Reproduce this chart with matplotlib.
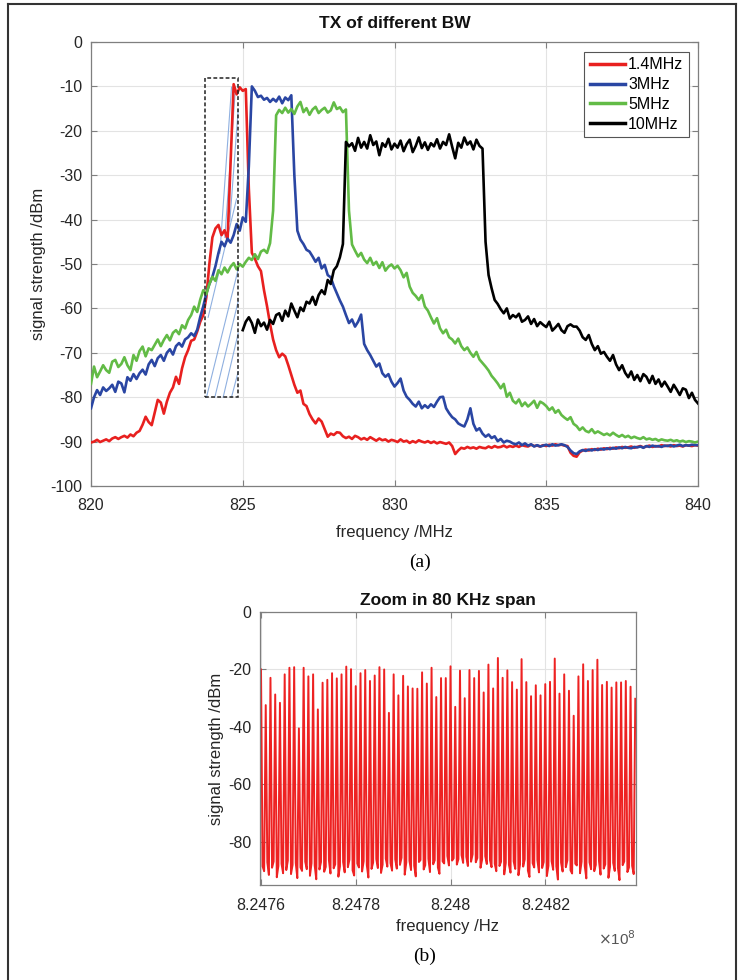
import numpy as np
import matplotlib
matplotlib.use("Agg")
import matplotlib.pyplot as plt
from matplotlib.patches import Rectangle
from matplotlib.lines import Line2D

plt.rcParams['font.family'] = ['Liberation Sans', 'DejaVu Sans']
plt.rcParams['axes.unicode_minus'] = False

# ---------------- data: panel (a) ----------------
freq_start_mhz = 820.0
freq_step_mhz = 0.1
bw_labels = ['1.4MHz', '3MHz', '5MHz', '10MHz']

red_14 = [
    -90.2, -90.0, -89.6, -90.1, -89.8, -89.5, -89.9, -89.3, -89.0, -89.4,
    -89.0, -88.7, -89.1, -88.4, -88.8, -88.0, -87.6, -86.2, -84.4, -85.6,
    -86.3, -83.5, -80.6, -81.2, -83.7, -81.0, -79.0, -77.8, -75.4, -77.0,
    -73.5, -71.0, -69.4, -67.3, -67.0, -65.2, -63.0, -61.5, -57.5, -50.0,
    -44.0, -42.0, -41.2, -43.5, -42.4, -44.5, -27.0, -9.5, -11.8, -10.2,
    -11.0, -10.6, -33.0, -47.5, -48.8, -50.5, -51.6, -55.9, -59.5, -63.5,
    -67.0, -69.4, -71.0, -70.2, -70.8, -72.8, -75.0, -77.2, -79.0, -78.5,
    -81.5, -82.0, -83.8, -85.0, -85.9, -84.8, -85.5, -87.2, -88.9, -88.2,
    -88.5, -87.9, -88.0, -88.8, -89.2, -88.9, -89.4, -88.7, -89.0, -89.5,
    -89.2, -89.6, -89.0, -89.4, -89.8, -89.3, -89.7, -89.5, -90.0, -89.6,
    -89.8, -90.1, -89.5, -90.0, -89.8, -90.3, -89.9, -90.2, -89.7, -90.0,
    -90.2, -89.9, -90.3, -90.0, -90.4, -90.1, -90.3, -90.5, -90.2, -91.0,
    -92.8, -92.0, -91.4, -91.6, -91.2, -91.5, -91.3, -91.6, -91.2, -91.4,
    -91.5, -91.1, -91.4, -91.0, -91.3, -91.2, -90.9, -91.3, -91.0, -91.2,
    -90.9, -91.2, -90.8, -91.0, -91.1, -90.7, -91.0, -90.9, -91.1, -90.8,
    -91.0, -90.7, -90.9, -90.6, -90.8, -90.7, -90.9, -91.0, -92.5, -93.2,
    -93.4, -92.4, -92.0, -91.8, -92.0, -91.7, -91.9, -91.6, -91.8, -91.5,
    -91.7, -91.4, -91.6, -91.3, -91.5, -91.2, -91.4, -91.3, -91.1, -91.4,
    -91.2, -91.0, -91.3, -91.1, -90.9, -91.2, -91.0, -91.1, -90.8, -91.0,
    -90.9, -91.1, -90.8, -91.0, -90.9, -91.1, -90.8, -90.9, -91.0, -90.8,
    -90.9,
]

blue_3 = [
    -82.5, -80.0, -78.4, -79.5, -77.8, -78.6, -78.0, -77.2, -78.8, -76.5,
    -76.9, -78.9, -75.5, -76.3, -74.8, -75.9, -74.6, -73.8, -74.9, -72.6,
    -71.6, -73.0, -71.2, -70.5, -71.8, -70.0, -69.2, -70.4, -68.5, -67.8,
    -68.6, -67.0, -66.5, -65.6, -66.2, -64.8, -61.9, -59.5, -56.6, -54.5,
    -52.9, -50.5, -47.5, -45.0, -46.0, -44.3, -45.2, -43.5, -41.0, -42.5,
    -39.5, -40.5, -28.0, -10.0, -11.0, -12.4, -12.1, -13.0, -12.6, -13.5,
    -12.8, -13.4, -12.3, -13.8, -12.5, -13.1, -12.0, -30.0, -42.5, -44.5,
    -45.5, -46.8, -47.2, -48.3, -49.5, -48.6, -51.0, -50.2, -52.5, -53.0,
    -55.0, -56.6, -58.2, -59.6, -61.5, -63.3, -62.5, -64.1, -63.0, -61.4,
    -68.0, -69.4, -70.5, -71.8, -73.1, -72.4, -74.6, -75.4, -74.8, -76.5,
    -77.6, -76.8, -75.8, -78.5, -79.9, -80.6, -81.5, -82.1, -81.0, -82.5,
    -81.8, -82.4, -81.6, -82.2, -81.0, -80.0, -79.9, -82.5, -83.6, -84.5,
    -85.0, -85.9, -86.3, -86.6, -85.0, -82.5, -86.0, -87.5, -87.0, -88.2,
    -88.9, -88.4, -89.2, -88.8, -89.9, -89.4, -90.2, -89.8, -90.0, -90.4,
    -90.6, -90.2, -90.8, -90.4, -90.9, -90.6, -91.1, -90.8, -91.1, -90.9,
    -90.7, -91.0, -90.6, -90.9, -90.8, -90.6, -90.8, -91.2, -92.0, -92.6,
    -92.8, -92.2, -91.9, -92.1, -91.8, -92.0, -91.7, -91.9, -91.6, -91.8,
    -91.5, -91.7, -91.4, -91.6, -91.3, -91.5, -91.2, -91.4, -91.5, -91.2,
    -91.3, -91.1, -91.4, -91.0, -91.2, -90.9, -91.1, -91.0, -91.2, -90.9,
    -91.0, -90.8, -91.1, -90.9, -90.7, -91.0, -90.8, -90.9, -90.7, -90.8,
    -90.8,
]

green_5 = [
    -77.0, -73.1, -75.5, -74.2, -72.8, -73.9, -74.5, -72.0, -71.6, -73.2,
    -72.5, -71.0, -72.8, -73.9, -70.5, -71.8, -69.6, -68.6, -70.8, -69.0,
    -69.4, -68.2, -67.0, -68.5, -67.1, -66.0, -67.2, -65.5, -64.9, -65.8,
    -63.8, -64.5, -62.6, -61.5, -59.6, -60.8, -58.0, -55.9, -56.8, -54.5,
    -52.9, -53.8, -51.4, -52.3, -50.8, -51.9, -50.6, -49.8, -51.2, -50.0,
    -50.6, -49.5, -48.6, -49.1, -47.8, -48.9, -47.2, -46.8, -47.5, -45.3,
    -38.0, -16.5, -15.3, -16.0, -14.8, -15.9, -15.1, -16.2, -14.5, -13.5,
    -15.8, -14.9, -16.4, -15.2, -14.6, -16.0, -15.3, -14.8, -15.9, -15.4,
    -13.6, -15.1, -14.7, -15.8, -15.2, -38.0, -45.6, -47.0, -48.3, -47.5,
    -49.0, -49.8, -48.6, -50.2, -49.5, -50.9, -49.6, -51.5, -50.6, -50.1,
    -51.0, -50.4, -51.4, -53.0, -52.0, -55.1, -56.5, -57.2, -58.1, -57.0,
    -59.6, -60.5, -62.0, -63.4, -62.2, -64.5, -65.6, -64.8, -66.5, -67.0,
    -67.9, -66.8, -68.5, -69.4, -68.8, -70.0, -70.9, -69.8, -71.5, -72.3,
    -73.1, -74.0, -75.2, -76.0, -76.9, -78.0, -77.0, -79.9, -79.0, -80.8,
    -81.4, -80.5, -82.0, -81.2, -82.1, -81.5, -80.8, -82.4, -81.0, -81.4,
    -82.0, -82.9, -82.3, -83.5, -82.9, -84.0, -84.6, -85.1, -84.5, -86.0,
    -86.5, -87.4, -86.8, -87.6, -87.9, -87.2, -88.1, -87.7, -88.1, -88.5,
    -88.2, -88.6, -88.0, -88.5, -88.9, -88.5, -89.0, -88.7, -89.2, -88.9,
    -89.2, -89.4, -89.0, -89.5, -89.3, -89.6, -89.4, -89.8, -89.5, -89.7,
    -89.8, -89.6, -89.9, -89.7, -90.0, -89.8, -90.1, -89.9, -90.0, -90.2,
    -90.0,
]

black_start_mhz = 825.0
black_10 = [
    -64.9, -63.0, -62.0, -63.3, -65.5, -62.5, -64.0, -63.2, -64.8, -62.6,
    -63.5, -61.5, -61.1, -62.8, -60.5, -61.8, -58.9, -60.5, -62.0, -59.8,
    -60.6, -58.5, -58.9, -57.4, -59.2, -57.0, -55.9, -56.8, -53.6, -54.5,
    -51.4, -50.5, -48.5, -45.5, -22.5, -23.5, -22.8, -24.5, -21.6, -23.8,
    -22.5, -24.0, -21.0, -23.2, -22.4, -25.5, -22.8, -23.6, -21.8, -24.2,
    -22.9, -23.8, -22.2, -24.6, -23.0, -22.0, -24.8, -23.4, -21.5, -23.9,
    -22.6, -24.3, -22.8, -23.5, -21.9, -24.0, -22.5, -23.2, -20.8, -23.6,
    -26.2, -22.7, -23.8, -21.5, -23.1, -22.4, -24.2, -22.0, -23.4, -24.0,
    -45.0, -52.5, -55.5, -58.1, -59.0, -60.2, -61.1, -60.0, -62.3, -61.5,
    -62.0, -61.2, -63.0, -62.6, -61.8, -63.5, -62.4, -64.0, -63.1, -63.7,
    -64.2, -63.0, -65.0, -64.3, -63.5, -64.9, -65.5, -64.0, -63.6, -64.1,
    -64.1, -65.0, -66.5, -67.1, -66.0, -68.0, -69.4, -68.5, -70.2, -69.8,
    -70.9, -71.8, -70.5, -72.6, -73.9, -72.8, -74.5, -75.5, -74.2, -76.1,
    -75.0, -76.4, -74.8, -75.4, -76.8, -75.2, -77.0, -76.0, -77.6, -76.5,
    -77.6, -78.8, -77.2, -78.3, -79.5, -78.0, -78.3, -80.2, -79.0, -80.6,
    -81.4,
]

# zoom box marked on panel (a): (f_left, f_right, dB_bottom, dB_top)
zoom_box = (823.75, 824.85, -80.0, -8.0)
# thin guide lines inside the zoom box, as fractions (u0, v0, u1, v1) of the box
guide_fracs = [
    (0.05, 0.00, 1.00, 0.40), (0.30, 0.00, 1.00, 0.30), (0.55, 0.00, 1.00, 0.20),
    (0.80, 0.00, 1.00, 0.08), (0.10, 0.25, 0.95, 0.62), (0.45, 0.45, 0.80, 0.97),
    (0.60, 0.50, 0.92, 0.97), (0.75, 0.55, 1.00, 0.90),
]

# ---------------- data: panel (b) ----------------
tone_start_hz = 824.760e6
tone_spacing_hz = 1000.0
tone_peaks = [
    -20.0, -32.4, -22.9, -28.7, -31.6, -21.7, -19.4, -19.2, -40.5, -19.4,
    -22.4, -21.7, -33.9, -24.6, -23.6, -21.3, -23.1, -21.7, -19.0, -19.9,
    -25.8, -21.3, -20.2, -24.0, -22.1, -19.2,
    -20.0, -35.1, -21.7, -29.0, -22.2, -25.9, -26.6, -26.7, -21.0, -24.9,
    -19.4, -29.6, -23.0, -23.0, -18.9, -33.0, -20.4, -30.0, -20.2, -23.0,
    -20.5, -28.0, -18.3, -26.6, -16.0, -22.9,
    -20.3, -24.4, -27.0, -16.4, -24.4, -29.3, -25.5, -29.0, -25.1, -24.3,
    -16.2, -28.4, -21.7, -27.4, -36.1, -22.4, -18.2, -24.0, -20.2, -16.6,
    -25.4, -24.3, -26.3, -24.5, -24.5, -24.0, -26.0, -30.2,
]
floor_noise = [
    -88.5, -90.2, -87.1, -91.5, -89.0, -86.8, -92.3, -88.4, -87.6, -90.9,
    -89.8, -86.5, -91.2, -88.0, -87.3, -92.6, -88.9, -90.1, -86.9, -89.5,
    -91.8, -87.4, -88.2, -93.0, -89.6, -87.0, -90.4, -88.7, -86.4, -91.0,
    -89.2, -87.8, -92.1, -88.5, -87.0, -90.6, -88.8, -86.2, -89.9, -91.7,
    -87.5, -88.9, -90.3, -86.7, -88.1, -92.4, -89.4, -87.2, -86.0, -89.1,
    -90.8, -87.9,
    -85.8, -88.6, -87.4, -90.0, -86.1, -89.3, -88.0, -85.5, -91.4, -87.2,
    -86.6, -89.8, -88.3, -92.0, -87.0, -86.3, -89.6, -88.1, -85.9, -90.5,
    -87.8, -86.4, -88.9, -91.1, -86.8, -87.5, -84.9, -88.2, -86.5, -85.7,
    -87.9, -86.0, -84.6, -87.3, -85.2, -88.4, -86.9, -84.3, -87.1, -85.6,
    -89.0, -86.2, -85.0, -87.7, -86.4, -88.8, -87.6, -90.2, -88.4, -86.9,
    -91.3, -87.3,
    -88.0, -90.7, -86.8, -89.4, -91.6, -87.9, -88.6, -86.1, -90.0, -92.2,
    -87.4, -88.9, -86.3, -90.6, -89.1, -87.0, -91.9, -88.3, -86.7, -89.7,
    -88.5, -93.1, -87.2, -90.3, -88.8, -86.4, -89.9, -91.0, -87.6, -88.2,
    -90.9, -86.9, -88.4, -92.7, -87.1, -89.5, -90.2, -88.0, -86.6, -91.4,
    -89.3, -87.8, -92.5, -88.7, -87.3, -90.1, -89.0, -93.3, -88.1, -86.8,
    -90.5, -88.9, -88.3, -91.2,
]
xticks_b = [824.76e6, 824.78e6, 824.80e6, 824.82e6]
xtick_labels_b = ['8.2476', '8.2478', '8.248', '8.2482']

# ---------------- figure ----------------
fig = plt.figure(figsize=(7.38, 9.80), dpi=100)
W, H = 738.0, 980.0

def ax_rect(l, t, r, b):
    return [l / W, 1 - b / H, (r - l) / W, (b - t) / H]

colors = ['#e8201f', '#2a46a3', '#62bb46', '#000000']
spine_col = '#7f7f7f'
txt_col = '#262626'

def style(ax):
    for s in ax.spines.values():
        s.set_color(spine_col)
        s.set_linewidth(0.9)
    ax.tick_params(direction='in', top=True, right=True, length=4,
                   color=spine_col, labelcolor=txt_col, labelsize=11.5)
    ax.tick_params(axis='x', pad=9)
    ax.tick_params(axis='y', pad=6)
    ax.grid(True, color='#e3e3e3', linewidth=0.8)
    ax.set_axisbelow(True)

# panel (a)
ax1 = fig.add_axes(ax_rect(91, 42, 698, 486))
style(ax1)
n_full = len(red_14)
f_full = freq_start_mhz + freq_step_mhz * np.arange(n_full)
f_black = black_start_mhz + freq_step_mhz * np.arange(len(black_10))

zl, zr, zb, zt = zoom_box
for u0, v0, u1, v1 in guide_fracs:
    ax1.plot([zl + u0 * (zr - zl), zl + u1 * (zr - zl)],
             [zb + v0 * (zt - zb), zb + v1 * (zt - zb)],
             color='#8fb0e0', lw=0.8, zorder=2)

series = [(f_full, red_14), (f_full, blue_3), (f_full, green_5), (f_black, black_10)]
for (fx, vals), c, lab in zip(series, colors, bw_labels):
    ax1.plot(fx, vals, color=c, lw=1.9, label=lab, zorder=3)

ax1.add_patch(Rectangle((zl, zb), zr - zl, zt - zb, fill=False, edgecolor='#222222',
                        linestyle=(0, (2.5, 1.5)), linewidth=1.1, zorder=4))

ax1.set_xlim(820, 840)
ax1.set_ylim(-100, 0)
ax1.set_xticks([820, 825, 830, 835, 840])
ax1.set_yticks(np.arange(-100, 1, 10))
ax1.set_title('TX of different BW', fontsize=12.5, fontweight='bold', color='#111111', pad=10)
ax1.set_xlabel('frequency /MHz', fontsize=12, color=txt_col, labelpad=8)
ax1.set_ylabel('signal strength /dBm', fontsize=12, color=txt_col, labelpad=3)
leg = ax1.legend(loc='upper right', bbox_to_anchor=(0.985, 0.978), fontsize=11.5,
                 handlelength=2.2, handletextpad=0.2, labelspacing=0.3,
                 borderpad=0.35, fancybox=False, framealpha=1, edgecolor='#555555',
                 borderaxespad=0)
leg.get_frame().set_linewidth(0.8)
for h in leg.get_lines():
    h.set_linewidth(2.5)

# panel (b)
ax2 = fig.add_axes(ax_rect(260, 612, 636, 885))
style(ax2)
n_tones = len(tone_peaks)
sub = 3
fb = tone_start_hz + (tone_spacing_hz / sub) * np.arange((n_tones - 1) * sub + 1)
vb = np.empty(len(fb))
vb[::sub] = tone_peaks
noise_arr = np.array(floor_noise).reshape(n_tones - 1, sub - 1)
for j in range(1, sub):
    vb[j::sub] = noise_arr[:, j - 1]
ax2.plot(fb, vb, color='#ee2222', lw=1.4)
ax2.set_xlim(824.75979e6, 824.83915e6)
ax2.set_ylim(-95, 0)
ax2.set_yticks([-80, -60, -40, -20, 0])
ax2.set_xticks(xticks_b)
ax2.set_xticklabels(xtick_labels_b)
ax2.set_title('Zoom in 80 KHz span', fontsize=12.5, fontweight='bold', color='#111111', pad=5)
ax2.set_xlabel('frequency /Hz', fontsize=12, color=txt_col, labelpad=5)
ax2.set_ylabel('signal strength /dBm', fontsize=12, color=txt_col, labelpad=3)
ax2.text(1.0, -0.195, r'$\times$10$^8$', transform=ax2.transAxes, ha='right', va='center',
         fontsize=11, color='#555555')

# captions
fig.text(420 / W, 1 - 562 / H, '(a)', ha='center', va='center', fontsize=14,
         family=['Liberation Serif', 'DejaVu Serif'])
fig.text(425 / W, 1 - 956 / H, '(b)', ha='center', va='center', fontsize=14,
         family=['Liberation Serif', 'DejaVu Serif'])

# page frame
for xs, ys in [([8, 8], [4, 990]), ([736, 736], [4, 990]), ([8, 736], [4, 4])]:
    fig.add_artist(Line2D([x / W for x in xs], [1 - y / H for y in ys],
                          color='#333333', lw=1.5))

fig.savefig('out.png', dpi=100)
